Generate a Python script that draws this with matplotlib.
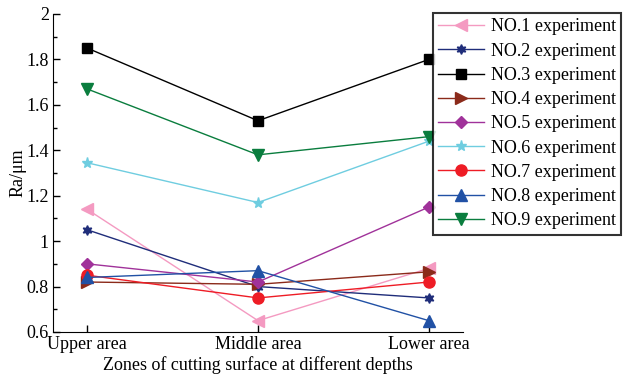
import matplotlib
matplotlib.use("Agg")
import matplotlib.pyplot as plt
from matplotlib.ticker import MultipleLocator, FuncFormatter

zones = ["Upper area", "Middle area", "Lower area"]
labels = ["NO.%d experiment" % i for i in range(1, 10)]

no1 = [1.14, 0.65, 0.88]
no2 = [1.05, 0.80, 0.75]
no3 = [1.85, 1.53, 1.80]
no4 = [0.82, 0.81, 0.865]
no5 = [0.90, 0.82, 1.15]
no6 = [1.345, 1.17, 1.44]
no7 = [0.85, 0.75, 0.82]
no8 = [0.84, 0.87, 0.65]
no9 = [1.67, 1.38, 1.46]

series = [no1, no2, no3, no4, no5, no6, no7, no8, no9]
colors = ['#f49ac1', '#1f2d7a', '#000000', '#8b2a1a', '#a0329a',
          '#6fcde0', '#ee1c25', '#2151a5', '#0a7d3e']
markers = ['<', (6, 1, 0), 's', '>', 'D', '*', 'o', '^', 'v']
sizes = [8, 7, 7, 8, 6, 8, 8, 8, 8]

plt.rcParams['font.family'] = ['Liberation Serif', 'DejaVu Serif']

fig = plt.figure(figsize=(6.23, 3.78), dpi=100)
ax = fig.add_axes([53 / 623, 1 - 332 / 378, 410 / 623, 318 / 378])

x = list(range(len(zones)))
for vals, lab, c, m, s in zip(series, labels, colors, markers, sizes):
    ax.plot(x, vals, color=c, marker=m, markersize=s, linewidth=1, label=lab)

ax.set_xlim(-0.2, 2.2)
ax.set_ylim(0.6, 2.0)
ax.set_xticks(x)
ax.set_xticklabels(zones)
ax.yaxis.set_major_locator(MultipleLocator(0.2))
ax.yaxis.set_minor_locator(MultipleLocator(0.1))
ax.yaxis.set_major_formatter(FuncFormatter(lambda v, p: ('%.1f' % v).rstrip('0').rstrip('.')))
ax.tick_params(direction='in', labelsize=13, length=5, width=1, pad=3)
ax.tick_params(which='minor', direction='in', length=3, width=1)
ax.spines['top'].set_visible(False)
ax.spines['right'].set_visible(False)
ax.set_xlabel("Zones of cutting surface at different depths", fontsize=13, labelpad=2)
ax.set_ylabel("Ra/\u03bcm", fontsize=13, labelpad=0)

leg = ax.legend(loc='upper left', bbox_to_anchor=(433 / 623, 1 - 13 / 378),
                bbox_transform=fig.transFigure, borderaxespad=0, fontsize=13,
                frameon=True, fancybox=False, edgecolor='black', borderpad=0.3,
                labelspacing=0.4, handlelength=2.55, handletextpad=0.35)
leg.get_frame().set_linewidth(1.5)

fig.savefig("out.png", dpi=100)
